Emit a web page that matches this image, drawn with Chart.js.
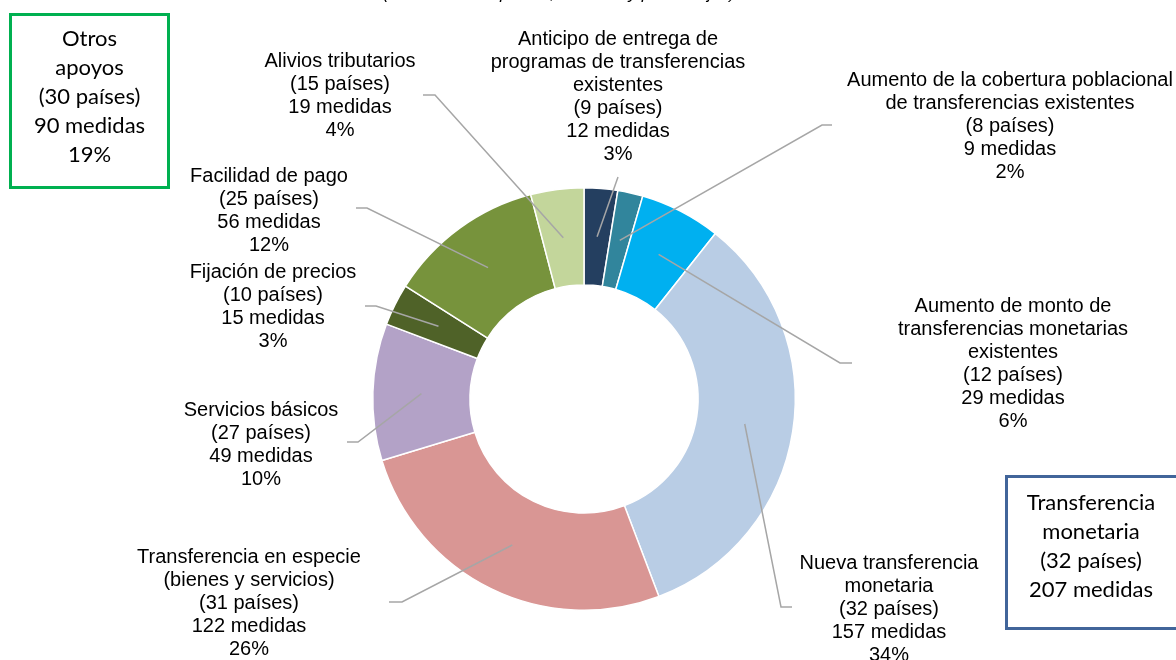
<!DOCTYPE html>
<html lang="es">
<head>
<meta charset="utf-8">
<script src="https://cdn.jsdelivr.net/npm/chart.js@4.4.0/dist/chart.umd.min.js"></script>
<style>
  html, body { margin: 0; padding: 0; background: #fff; }
  #wrap { position: relative; width: 1176px; height: 660px; overflow: hidden; }
  #chart { position: absolute; left: 0; top: 0; }
  .box {
    position: absolute;
    box-sizing: border-box;
    font-family: Lato, "Noto Sans", sans-serif;
    font-size: 22px;
    line-height: 29px;
    color: #000;
    text-align: center;
  }
  #otros { left: 9px; top: 13px; width: 161px; height: 176px; border: 3px solid #00B050; padding-top: 7px; }
  #monetaria { left: 1005px; top: 475px; width: 190px; height: 155px; border: 3px solid #41659A; padding-top: 9px; padding-right: 18px; }
</style>
</head>
<body>
<div id="wrap">
  <canvas id="chart" width="1176" height="660"></canvas>
  <div class="box" id="otros">Otros<br>apoyos<br>(30 países)<br>90 medidas<br>19%</div>
  <div class="box" id="monetaria">Transferencia<br>monetaria<br>(32 países)<br>207 medidas</div>
</div>
<script>
/* ─── data ─────────────────────────────────────── */
const categories = [
  ['Anticipo de entrega de', 'programas de transferencias', 'existentes'],
  ['Aumento de la cobertura poblacional', 'de transferencias existentes'],
  ['Aumento de monto de', 'transferencias monetarias', 'existentes'],
  ['Nueva transferencia', 'monetaria'],
  ['Transferencia en especie', '(bienes y servicios)'],
  ['Servicios básicos'],
  ['Fijación de precios'],
  ['Facilidad de pago'],
  ['Alivios tributarios']
];
const paises  = [9, 8, 12, 32, 31, 27, 10, 25, 15];
const medidas = [12, 9, 29, 157, 122, 49, 15, 56, 19];

const colors = ['#243F60', '#31859C', '#00B0F0', '#B9CDE5', '#D99694',
                '#B3A2C7', '#4F6228', '#77933C', '#C3D69B'];

/* ── label placement: text centre x, first line y, leader elbow and end ── */
const labelX = [618, 1010, 1013, 889, 249, 261, 273, 269, 340];
const labelY = [39, 80, 306, 563, 557, 410, 272, 176, 61];
const elbow  = [[618, 177], [822, 125], [840, 363], [781, 607], [402, 602],
                [358, 442], [376, 306], [367, 208], [435, 95]];
const lineEnd = [[618, 177], [832, 125], [852, 363], [792, 607], [389, 602],
                 [347, 442], [365, 306], [356, 208], [423, 95]];

const total = medidas.reduce((a, b) => a + b, 0);

/* ── leader lines + labels ── */
const labelPlugin = {
  id: 'labels',
  afterDatasetsDraw(chart) {
    const ctx = chart.ctx;
    const arcs = chart.getDatasetMeta(0).data;
    ctx.save();
    ctx.strokeStyle = '#A6A6A6';
    ctx.lineWidth = 1.5;
    arcs.forEach((arc, i) => {
      const p = arc.tooltipPosition();
      ctx.beginPath();
      ctx.moveTo(p.x, p.y);
      ctx.lineTo(elbow[i][0], elbow[i][1]);
      ctx.lineTo(lineEnd[i][0], lineEnd[i][1]);
      ctx.stroke();
    });

    ctx.fillStyle = '#000';
    ctx.font = '20px "Liberation Sans", Arial, sans-serif';
    ctx.textAlign = 'center';
    ctx.textBaseline = 'middle';
    categories.forEach((name, i) => {
      const lines = name.concat([
        '(' + paises[i] + ' países)',
        medidas[i] + ' medidas',
        Math.round(medidas[i] / total * 100) + '%'
      ]);
      lines.forEach((t, k) => ctx.fillText(t, labelX[i], labelY[i] + k * 23));
    });

    /* title, cut by the top edge */
    ctx.font = 'italic 17px "Liberation Sans", Arial, sans-serif';
    ctx.textBaseline = 'alphabetic';
    ctx.fillText('(En número de países, medidas y porcentajes)', 559, -1);
    ctx.restore();
  }
};

new Chart(document.getElementById('chart'), {
  type: 'doughnut',
  data: {
    labels: categories.map(c => c.join(' ')),
    datasets: [{
      data: medidas,
      backgroundColor: colors,
      borderColor: '#ffffff',
      borderWidth: 1.5
    }]
  },
  options: {
    responsive: false,
    animation: false,
    cutout: '54%',
    layout: { padding: { left: 372, top: 187, right: 380, bottom: 49 } },
    plugins: {
      legend: { display: false },
      tooltip: { enabled: false }
    }
  },
  plugins: [labelPlugin]
});
</script>
</body>
</html>
